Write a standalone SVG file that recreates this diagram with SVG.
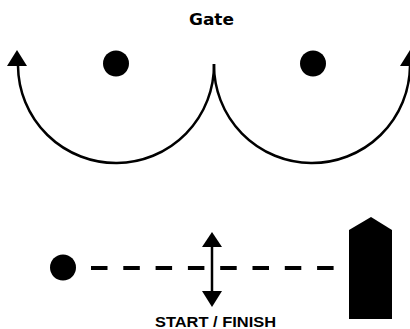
<svg xmlns="http://www.w3.org/2000/svg" width="410" height="329" viewBox="0 0 410 329">
<style>
.lbl{font-family:"Liberation Sans",Arial,sans-serif;font-weight:bold;fill:#000;text-anchor:middle}
.gate{font-family:"DejaVu Sans",Verdana,sans-serif;font-weight:bold;fill:#000;text-anchor:middle}
.arc{fill:none;stroke:#000;stroke-width:2.5}
.dash{fill:none;stroke:#000;stroke-width:4;stroke-dasharray:16.5 15.8}
.dot{fill:#000}
</style>
<rect width="410" height="329" fill="#fff"/>
<g id="gate-label"><text class="gate" x="211.5" y="25" font-size="16.5" textLength="45" lengthAdjust="spacingAndGlyphs">Gate</text></g>
<g id="buoy-left"><circle class="dot" cx="116" cy="63.5" r="13"/></g>
<g id="buoy-right"><circle class="dot" cx="313" cy="63.5" r="13"/></g>
<g id="start-buoy"><circle class="dot" cx="63" cy="267.5" r="13"/></g>
<g id="boat"><polygon class="dot" points="349,230 371,217 392,230 392,319 349,319"/></g>
<g id="start-finish-label"><text class="lbl" x="215.5" y="327" font-size="15.4" textLength="121" lengthAdjust="spacingAndGlyphs">START / FINISH</text></g>
<g id="connectors">
<path class="arc" d="M214,64 A98,98 0 0 1 18,66"/>
<polygon class="dot" points="17,50 27,66 7,66"/>
<path class="arc" d="M214,64 A98,98 0 0 0 410,66"/>
<polygon class="dot" points="410,50 420,66 400,66"/>
<path class="dash" d="M91,268 H334"/>
<line x1="212" y1="245" x2="212" y2="293" stroke="#000" stroke-width="2.5"/>
<polygon class="dot" points="212,232 222,247 202,247"/>
<polygon class="dot" points="212,307 222,291 202,291"/>
</g>
</svg>
